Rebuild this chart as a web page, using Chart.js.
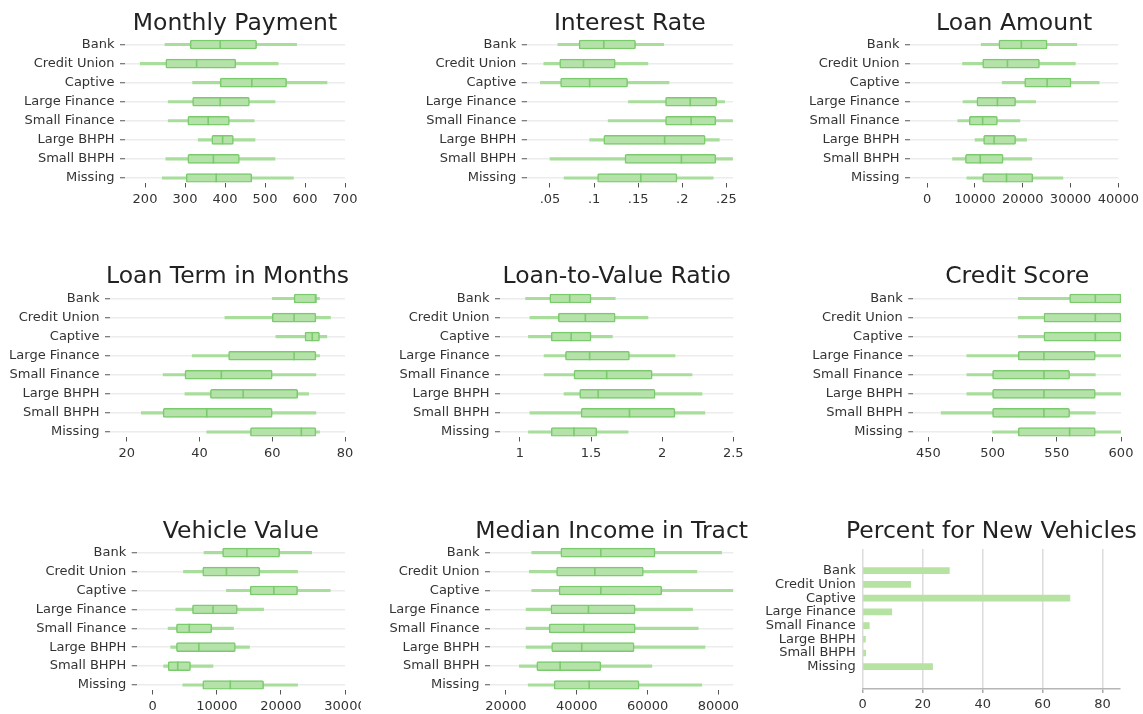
<!DOCTYPE html>
<html lang="en">
<head>
<meta charset="UTF-8">
<title>Loan characteristics by lender type</title>
<script src="https://cdn.jsdelivr.net/npm/chart.js"></script>
<style>
  body { margin: 0; background: #fff; width: 1143px; height: 714px; position: relative; overflow: hidden; }
  .panel { position: absolute; overflow: hidden; }
</style>
</head>
<body>
<script>
const lenders = ['Bank', 'Credit Union', 'Captive', 'Large Finance', 'Small Finance', 'Large BHPH', 'Small BHPH', 'Missing'];

// each row: [whisker low, q1, median, q3, whisker high]
const monthlyPayment = [[250, 313, 388, 479, 579], [188, 252, 329, 427, 533], [319, 388, 467, 554, 655], [258, 319, 388, 461, 525],
  [258, 307, 358, 411, 473], [333, 367, 394, 421, 475], [252, 307, 371, 436, 525], [243, 303, 378, 467, 571]];
const interestRate = [[0.059, 0.083, 0.111, 0.147, 0.179], [0.043, 0.061, 0.088, 0.124, 0.161], [0.039, 0.062, 0.095, 0.138, 0.185], [0.139, 0.181, 0.209, 0.239, 0.248],
  [0.116, 0.181, 0.210, 0.238, 0.257], [0.095, 0.111, 0.180, 0.226, 0.242], [0.050, 0.135, 0.199, 0.238, 0.257], [0.066, 0.104, 0.153, 0.194, 0.235]];
const loanAmount = [[11300, 15000, 19700, 25100, 31300], [7400, 11600, 16800, 23500, 31000], [15700, 20400, 25100, 30100, 36000], [7500, 10400, 14700, 18500, 22700],
  [6400, 8800, 11600, 14700, 19400], [10000, 11800, 14000, 18500, 20800], [5300, 8000, 11100, 15900, 21900], [8300, 11600, 16600, 22100, 28400]];
const loanTerm = [[60, 66, 72, 72, 73], [47, 60, 66, 72, 76], [61, 69, 71, 73, 75], [38, 48, 66, 72, 73],
  [30, 36, 46, 60, 72], [36, 43, 52, 67, 70], [24, 30, 42, 60, 72], [42, 54, 68, 72, 73]];
const loanToValue = [[1.04, 1.21, 1.35, 1.50, 1.67], [1.07, 1.27, 1.46, 1.67, 1.90], [1.06, 1.22, 1.36, 1.50, 1.65], [1.17, 1.32, 1.49, 1.77, 2.09],
  [1.17, 1.38, 1.61, 1.93, 2.21], [1.31, 1.42, 1.55, 1.95, 2.28], [1.07, 1.43, 1.77, 2.09, 2.30], [1.06, 1.22, 1.38, 1.54, 1.76]];
const creditScore = [[520, 560, 580, 600, 600], [520, 540, 580, 600, 600], [520, 540, 580, 600, 600], [480, 520, 540, 580, 600],
  [480, 500, 540, 560, 580], [480, 500, 540, 580, 600], [460, 500, 540, 560, 580], [500, 520, 560, 580, 600]];
const vehicleValue = [[8000, 10900, 14700, 19800, 24800], [4800, 7800, 11500, 16700, 22600], [11500, 15200, 18900, 22600, 27700], [3600, 6200, 9400, 13200, 17300],
  [2400, 3700, 5700, 9200, 12600], [2800, 3700, 7200, 12900, 15100], [1700, 2400, 3900, 5900, 9400], [4700, 7800, 12100, 17300, 22600]];
const medianIncome = [[27300, 35500, 46800, 62100, 80900], [26600, 34300, 45100, 58800, 73900], [27300, 35000, 46800, 64000, 84200], [25700, 32700, 43300, 56500, 72700],
  [25700, 32200, 42000, 56500, 74300], [25700, 32900, 41400, 56200, 76200], [23800, 28700, 35300, 46800, 61200], [26300, 33600, 43500, 57600, 75300]];
const pctNew = [28.9, 16.0, 69.1, 9.7, 2.2, 0.9, 1.0, 23.3];

const paymentTicks = [200, 300, 400, 500, 600, 700];
const rateTicks = [0.05, 0.1, 0.15, 0.2, 0.25];
const loanTicks = [0, 10000, 20000, 30000, 40000];
const termTicks = [20, 40, 60, 80];
const ltvTicks = [1, 1.5, 2, 2.5];
const scoreTicks = [450, 500, 550, 600];
const vehicleTicks = [0, 10000, 20000, 30000];
const incomeTicks = [20000, 40000, 60000, 80000];
const pctTicks = [0, 20, 40, 60, 80];

const boxFill = '#b4e2a9';
const boxLine = '#7acb6c';
const whiskerColor = '#a8dd9b';
const barGreen = '#b6e3a2';

Chart.defaults.font.family = '"DejaVu Sans", sans-serif';
Chart.defaults.font.size = 13;
Chart.defaults.color = '#333';

// title centred over the plot area, like the original axes titles
const panelTitle = {
  id: 'panelTitle',
  afterDraw(chart, args, opts) {
    const { ctx, chartArea } = chart;
    ctx.save();
    ctx.font = '23.5px "DejaVu Sans", sans-serif';
    ctx.fillStyle = '#222';
    ctx.textAlign = 'center';
    ctx.textBaseline = 'middle';
    ctx.fillText(opts.text, (chartArea.left + chartArea.right) / 2, opts.y);
    ctx.restore();
  }
};

function makeCanvas(p) {
  const div = document.createElement('div');
  div.className = 'panel';
  div.style.left = p.box[0] + 'px';
  div.style.top = p.box[1] + 'px';
  div.style.width = (p.clip || p.box[2]) + 'px';
  div.style.height = p.box[3] + 'px';
  const c = document.createElement('canvas');
  c.width = p.box[2];
  c.height = p.box[3];
  c.style.width = p.box[2] + 'px';
  c.style.height = p.box[3] + 'px';
  div.appendChild(c);
  document.body.appendChild(div);
  return c;
}

const plain = v => String(v);
const noLeadZero = v => String(v).replace(/^0\./, '.');

const panels = [
  { title: 'Monthly Payment', stats: monthlyPayment, ticks: paymentTicks, min: 150, max: 700,
    box: [0, 0, 380, 250], left: 125, right: 345, firstRow: 44.5, lastRow: 178, titleY: 23.5 },
  { title: 'Interest Rate', stats: interestRate, ticks: rateTicks, min: 0.0236, max: 0.2575, fmt: noLeadZero,
    box: [380, 0, 380, 250], left: 526.7, right: 733, firstRow: 44.5, lastRow: 178, titleY: 23.5 },
  { title: 'Loan Amount', stats: loanAmount, ticks: loanTicks, min: -3600, max: 40000,
    box: [760, 0, 383, 250], left: 910, right: 1120.5, firstRow: 44.5, lastRow: 178, titleY: 23.5 },
  { title: 'Loan Term in Months', stats: loanTerm, ticks: termTicks, min: 15.4, max: 80,
    box: [0, 250, 380, 250], left: 110, right: 345, firstRow: 298.5, lastRow: 432, titleY: 276.7 },
  { title: 'Loan-to-Value Ratio', stats: loanToValue, ticks: ltvTicks, min: 0.86, max: 2.5,
    box: [380, 250, 380, 250], left: 500, right: 733.3, firstRow: 298.5, lastRow: 432, titleY: 276.7 },
  { title: 'Credit Score', stats: creditScore, ticks: scoreTicks, min: 438.3, max: 600,
    box: [760, 250, 383, 250], left: 913.3, right: 1121, firstRow: 298.5, lastRow: 432, titleY: 276.7 },
  { title: 'Vehicle Value', stats: vehicleValue, ticks: vehicleTicks, min: -2500, max: 30000,
    box: [0, 500, 380, 214], clip: 361, left: 136.7, right: 345, firstRow: 552.7, lastRow: 685, titleY: 531.7 },
  { title: 'Median Income in Tract', stats: medianIncome, ticks: incomeTicks, min: 15500, max: 84200,
    box: [380, 500, 380, 214], left: 490, right: 733.3, firstRow: 552.7, lastRow: 685, titleY: 531.7 }
];

function boxChart(p) {
  const canvas = makeCanvas(p);
  const x0 = p.box[0], y0 = p.box[1];
  const step = (p.lastRow - p.firstRow) / 7;
  const top = p.firstRow - 10;
  const bottom = p.lastRow + 4.5;

  new Chart(canvas, {
    type: 'bar',
    data: {
      datasets: [
        {
          type: 'scatter',
          data: p.stats.map((d, i) => ({ x: d[2], y: i })),
          pointStyle: 'line',
          pointRotation: 90,
          pointRadius: 4.5,
          pointBorderColor: boxLine,
          pointBackgroundColor: boxLine,
          pointBorderWidth: 1.6
        },
        {
          data: p.stats.map((d, i) => ({ x: [d[1], d[3]], y: i })),
          backgroundColor: boxFill,
          borderColor: boxLine,
          borderWidth: 1.5,
          borderSkipped: false,
          borderRadius: 1.5,
          barThickness: 9,
          grouped: false
        },
        {
          data: p.stats.map((d, i) => ({ x: [d[0], d[4]], y: i })),
          backgroundColor: whiskerColor,
          borderWidth: 0,
          barThickness: 2.5,
          grouped: false
        }
      ]
    },
    options: {
      indexAxis: 'y',
      responsive: false,
      animation: false,
      events: [],
      layout: { padding: { top: top - y0, right: x0 + p.box[2] - p.right, left: 0, bottom: 0 } },
      plugins: {
        legend: { display: false },
        tooltip: { enabled: false },
        panelTitle: { text: p.title, y: p.titleY - y0 }
      },
      scales: {
        x: {
          type: 'linear',
          min: p.min,
          max: p.max,
          afterBuildTicks: sc => { sc.ticks = p.ticks.map(v => ({ value: v })); },
          afterFit: sc => { sc.height = y0 + p.box[3] - bottom; },
          grid: { drawOnChartArea: false, tickLength: 5, tickColor: '#555' },
          border: { display: false },
          ticks: { padding: 4, autoSkip: false, maxRotation: 0, callback: p.fmt || plain }
        },
        y: {
          type: 'linear',
          reverse: true,
          offset: false,
          min: -10 / step,
          max: 7 + 4.5 / step,
          afterBuildTicks: sc => { sc.ticks = lenders.map((l, i) => ({ value: i })); },
          afterFit: sc => { sc.width = p.left - x0; },
          grid: { offset: false, color: '#ececec', lineWidth: 1.5, tickLength: 5, tickColor: '#555', tickWidth: 1 },
          border: { display: false },
          ticks: { padding: 5.5, autoSkip: false, callback: v => lenders[v] }
        }
      }
    },
    plugins: [panelTitle]
  });
}

panels.forEach(boxChart);

// Percent for New Vehicles - plain bar chart
(function () {
  const p = { box: [760, 500, 383, 214] };
  const canvas = makeCanvas(p);
  const step = (666.7 - 570.7) / 7;
  new Chart(canvas, {
    type: 'bar',
    data: {
      datasets: [{
        data: pctNew.map((v, i) => ({ x: v, y: i })),
        backgroundColor: barGreen,
        barThickness: 6
      }]
    },
    options: {
      indexAxis: 'y',
      responsive: false,
      animation: false,
      events: [],
      layout: { padding: { top: 549 - 500, right: 1143 - 1120, left: 0, bottom: 0 } },
      plugins: {
        legend: { display: false },
        tooltip: { enabled: false },
        panelTitle: { text: 'Percent for New Vehicles', y: 531.7 - 500 }
      },
      scales: {
        x: {
          type: 'linear',
          min: 0,
          max: 85.8,
          afterBuildTicks: sc => { sc.ticks = pctTicks.map(v => ({ value: v })); },
          afterFit: sc => { sc.height = 714 - 689; },
          grid: { color: '#dcdcdc', lineWidth: 1.5, tickLength: 4, tickColor: '#aaa' },
          border: { display: true, color: '#b5b5b5', width: 1.5 },
          ticks: { padding: 4, autoSkip: false, maxRotation: 0, callback: plain }
        },
        y: {
          type: 'linear',
          reverse: true,
          offset: false,
          min: -(570.7 - 549) / step,
          max: 7 + (689 - 666.7) / step,
          afterBuildTicks: sc => { sc.ticks = lenders.map((l, i) => ({ value: i })); },
          afterFit: sc => { sc.width = 862.7 - 760; },
          grid: { display: false, drawTicks: false, offset: false },
          border: { display: false },
          ticks: { padding: 7, autoSkip: false, callback: v => lenders[v] }
        }
      }
    },
    plugins: [panelTitle]
  });
})();
</script>
</body>
</html>
